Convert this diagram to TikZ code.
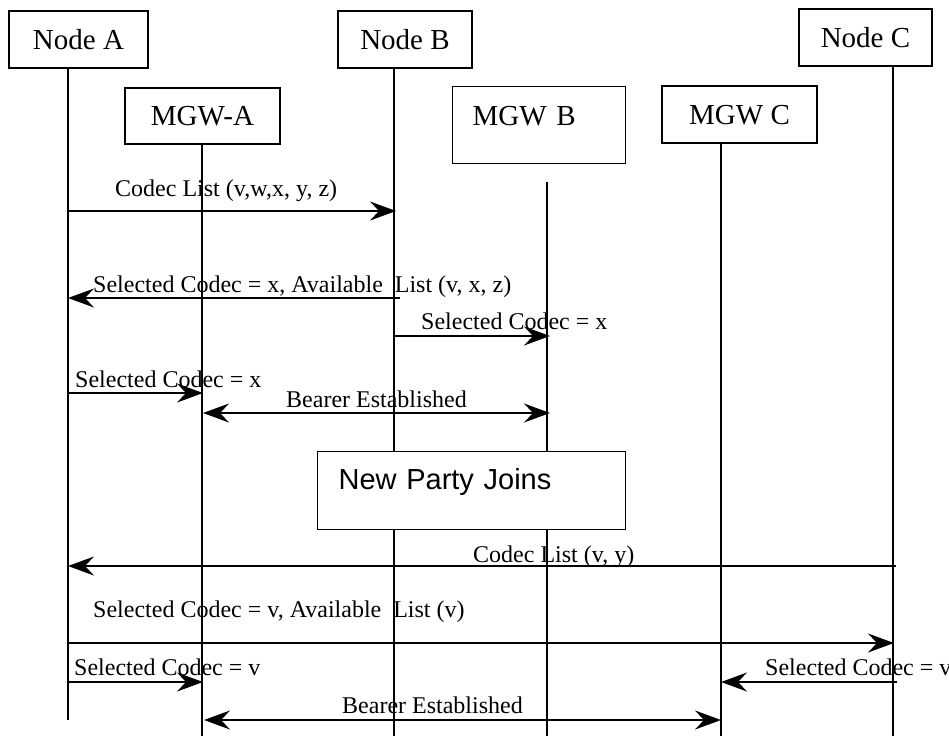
\documentclass[tikz,border=0pt]{standalone}
\usepackage{fontspec}
\setmainfont{Liberation Serif}
\newfontfamily\arialfont{Liberation Sans}
\usetikzlibrary{arrows.meta}
\begin{document}
\begin{tikzpicture}[x=1pt,y=-1pt,
  box/.style={draw, line width=1.3pt, inner sep=0pt, fill=white,
    font=\fontsize{29}{34}\selectfont, text height=19pt, text depth=0pt},
  life/.style={line width=1.3pt},
  tipx/.tip={Stealth[length=26pt,width=19pt,inset=9pt]},
  msg/.style={line width=1.3pt, -tipx},
  bimsg/.style={line width=1.3pt, tipx-tipx},
  lbl/.style={anchor=base west, inner sep=0pt, font=\fontsize{24}{28}\selectfont}]
\useasboundingbox (0,0) rectangle (949,736);

% participants
\node[box, minimum width=139pt, minimum height=57pt] (nA) at (78.5,39.5) {Node A};
\node[box, minimum width=134pt, minimum height=57pt] (nB) at (405,39.5) {Node B};
\node[box, minimum width=133pt, minimum height=57pt] (nC) at (865.5,37.5) {Node C};
\node[box, minimum width=155pt, minimum height=56pt] (mA) at (202.5,116) {MGW-A};
\node[box, anchor=north west, inner xsep=20pt, inner ysep=20pt, text width=133pt,
      align=left, text depth=18pt] (mB) at (452,86) {MGW B};
\node[box, minimum width=155pt, minimum height=57pt] (mC) at (739.5,114.5) {MGW C};

% lifelines
\coordinate (aBot) at (68,720);
\coordinate (bBot) at (394,736);
\coordinate (maBot) at (202,736);
\coordinate (mbTop) at (547,182);
\coordinate (mbBot) at (547,736);
\coordinate (mcBot) at (721,736);
\coordinate (cBot) at (893,736);
\draw[life] (nA.south -| aBot) -- (aBot);
\draw[life] (nB.south -| bBot) -- (bBot);
\draw[life] (mA.south -| maBot) -- (maBot);
\draw[life] (mbTop) -- (mbBot);
\draw[life] (mC.south -| mcBot) -- (mcBot);
\draw[life] (nC.south -| cBot) -- (cBot);

% message end points
\coordinate (m1s) at (68,211);  \coordinate (m1e) at (396,211);
\coordinate (m2s) at (400,298); \coordinate (m2e) at (68,298);
\coordinate (m3s) at (394,336); \coordinate (m3e) at (550,336);
\coordinate (m4s) at (68,393);  \coordinate (m4e) at (203,393);
\coordinate (m5s) at (203,413); \coordinate (m5e) at (550,413);
\coordinate (m7s) at (896,566); \coordinate (m7e) at (68,566);
\coordinate (m8s) at (68,643);  \coordinate (m8e) at (894,643);
\coordinate (m9s) at (68,682);  \coordinate (m9e) at (203,682);
\coordinate (m10s) at (897,682); \coordinate (m10e) at (721,682);
\coordinate (m11s) at (204,720); \coordinate (m11e) at (721,720);

\draw[msg] (m1s) -- (m1e);
\draw[msg] (m2s) -- (m2e);
\draw[msg] (m3s) -- (m3e);
\draw[msg] (m4s) -- (m4e);
\draw[bimsg] (m5s) -- (m5e);
\draw[msg] (m7s) -- (m7e);
\draw[msg] (m8s) -- (m8e);
\draw[msg] (m9s) -- (m9e);
\draw[msg] (m10s) -- (m10e);
\draw[bimsg] (m11s) -- (m11e);

% labels
\node[lbl] (l1) at (115,196) {Codec List (v,w,x, y, z)};
\node[lbl] (l2) at (93,292) {Selected Codec = x, Available\ \ List (v, x, z)};
\node[lbl] (l3) at (421,329) {Selected Codec = x};
\node[lbl] (l4) at (75,387) {Selected Codec = x};
\node[lbl] (l5) at (286,407) {Bearer Established};
\node[lbl] (l7) at (473,562) {Codec List (v, y)};
\node[lbl] (l8) at (93,617) {Selected Codec = v, Available\ \ List (v)};
\node[lbl] (l9) at (74,675) {Selected Codec = v};
\node[lbl] (l10) at (765,675) {Selected Codec = v};
\node[lbl] (l11) at (342,713) {Bearer Established};

% event box
\node[draw, line width=1.3pt, fill=white, anchor=north west, inner xsep=21pt, inner ysep=17pt,
      text width=266pt, align=left, text height=21pt, text depth=23pt,
      font=\arialfont\fontsize{29}{34}\selectfont] (np) at (317,451) {New Party Joins};
\end{tikzpicture}
\end{document}
